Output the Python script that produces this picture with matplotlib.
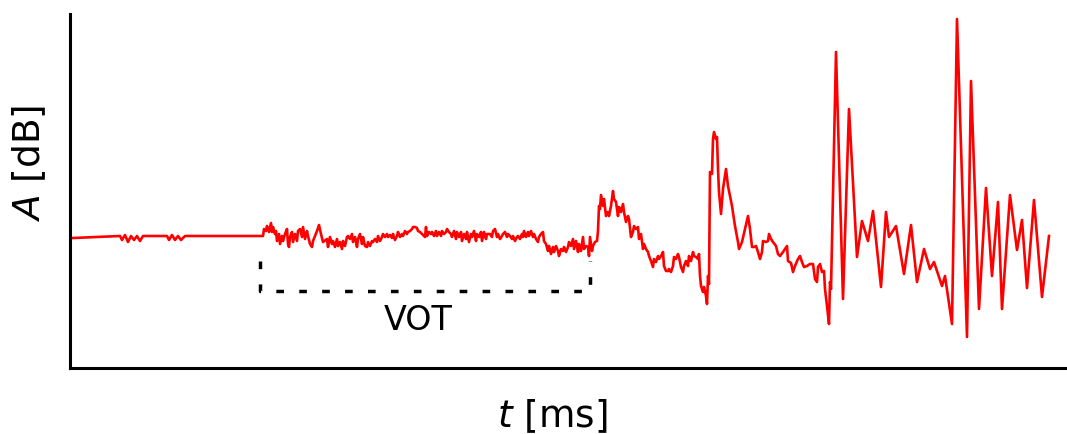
import matplotlib

matplotlib.use("Agg")

import matplotlib.pyplot as plt


# silence before the release: flat with two tiny ripples
silence_t = [0, 47, 49, 52, 55, 58, 61, 64, 67, 70,
             94, 96, 99, 102, 105, 108, 112, 189]
silence_a = [-1, 1, -3, 2, -5, 1, -3, 1, -4, 1,
             1, -3, 2, -3, 1, -3, 1, 1]

# burst / aspiration noise (the VOT stretch)
burst_t = [190, 191, 193, 194, 196, 198, 199, 200, 202, 203,
           204, 206, 207, 209, 210, 212, 214, 215, 216, 217,
           219, 220, 222, 224, 225, 227, 229, 230, 232, 234,
           235, 237, 239, 240, 244, 246, 248, 250, 254, 255,
           257, 259, 260, 262, 264, 265, 267, 269, 270, 272,
           274, 275, 277, 279, 280, 282, 284, 285, 287, 289,
           290, 292, 294, 295, 297, 299, 300,
           302, 304, 305, 307, 309, 310, 312, 314, 315, 317,
           319, 320, 322, 324, 325, 327, 329, 330, 332, 334,
           335, 337, 339, 340, 342, 344, 345, 347, 349, 350,
           352, 353, 354, 356, 358, 359, 361, 363, 364, 366,
           368, 369, 371, 373, 374, 376, 378, 379, 381, 383,
           384, 386, 388, 389, 391, 393, 394, 396, 398, 399,
           401, 403, 404, 406, 408, 409, 411, 413, 414,
           417, 419, 420, 422, 424, 425, 427, 429, 430, 432,
           434, 435, 437, 439, 440, 442, 444, 445, 447, 449,
           450, 451, 453, 455, 456, 458, 460, 461, 463, 465,
           466, 468, 470, 471, 473, 475, 476, 478, 480, 481,
           483, 485, 486, 488, 490, 491, 493, 495, 496, 498,
           500, 501, 503, 505, 506, 508, 510, 511, 513, 515,
           516, 517, 519, 520, 522, 524, 525]
burst_a = [1, 8, 6, 11, 5, 14, 5, 10, 3, 6,
           -4, 3, -7, 1, -4, 3, 8, -7, -10, 0,
           5, -5, 3, -4, 6, 8, 0, 10, -2, 6,
           1, -7, -10, -4, 6, 12, 3, -5, -2, -10,
           0, -7, -4, -10, -2, -9, -5, -12, -4, -9,
           0, 1, -2, 3, -5, 0, -10, -2, 3, -7,
           0, -9, -10, -5, -9, -4, -5,
           -2, -5, 1, -4, 0, 3, 0, 3, 0, 2,
           -1, 3, -3, 1, 5, 0, 3, 1, 6, 3,
           5, 6, 8, 10, 10, 9, 6, 5, 3, 2,
           0, 10, 1, 5, 3, 5, 1, 6, 1, 5,
           1, 6, 3, 5, 8, 5, 3, 0, 6, -2,
           5, 0, 5, -4, 3, -2, 5, -5, 3, 0,
           6, -4, 3, 0, 5, -4, 5, -2, 3,
           3, 0, 6, 8, 0, 3, -2, 1, 3, 5,
           0, 3, 1, -2, 1, -4, 0, 1, -2, 3,
           0, 6, 0, 5, 1, 6, 0, 3, -2, -5,
           0, 3, 5, -4, -7, -14, -9, -17, -10, -15,
           -9, -14, -19, -12, -14, -10, -15, -10, -5, -9,
           -2, -12, -4, -15, -7, -14, 0, -12, -9, -10,
           -19, 0, -14, -9, -5, -4, 6]

# voiced part after onset
vowel_t = [526, 527, 528, 530, 531, 533, 535, 536, 538, 540,
           541, 543, 545, 546, 548, 550, 551, 553, 555, 556,
           558, 560, 561, 563, 565, 566, 568, 570, 571, 573,
           575, 576, 578, 580, 581, 583, 585, 586, 588, 590,
           591, 593, 595, 596, 598, 600, 601, 603, 605, 606,
           608, 610, 611, 613, 615, 616, 618, 620, 621, 623,
           625, 626, 627, 628, 630, 631, 633, 634, 635, 636,
           637, 639, 640, 641, 643, 644, 645, 646, 648, 650,
           653, 655, 659, 662, 665, 666, 669, 672, 675, 677,
           679, 681, 683, 685, 687, 689, 690, 693, 695, 696,
           698, 700, 703, 705, 707, 710, 712, 714, 715, 718,
           720, 722, 725, 727, 729, 731, 734, 737, 740, 742,
           744, 745, 747, 749, 751, 752, 754, 756, 757, 758,
           763, 770, 776, 784, 789, 795, 800, 808, 813, 816,
           823, 831, 838, 844, 851, 857, 861, 869, 872, 879,
           884, 894, 898, 906, 913, 919, 925, 929, 937, 944,
           949, 954, 961, 969, 976]
vowel_a = [31, 28, 42, 31, 38, 21, 25, 21, 31, 46,
           38, 35, 21, 30, 25, 33, 25, 15, 21, 18,
           0, 5, 11, 8, 10, -2, 3, -12, -7, -12,
           -15, -19, -24, -30, -22, -25, -19, -22, -19, -15,
           -29, -34, -34, -32, -35, -29, -20, -22, -17, -20,
           -30, -35, -29, -24, -29, -19, -24, -15, -19, -20,
           -22, -17, -39, -49, -55, -50, -59, -67, -39, -47,
           65, 63, 98, 105, 98, 100, 68, 45, 23, 48,
           68, 51, 31, 11, -5, -12, -5, 8, 21, 8,
           -10, -10, -9, -15, -22, -15, -4, -5, -4, 3,
           -2, -5, -9, -17, -19, -15, -12, -9, -24, -26,
           -35, -29, -22, -19, -25, -30, -29, -27, -27, -42,
           -45, -30, -27, -35, -34, -52, -69, -87, -45, -52,
           185, -62, 128, -20, 16, -4, 26, -50, 25, 0,
           11, -37, 12, -45, -12, -32, -25, -49, -39, -87,
           218, -100, 156, -72, 49, -39, 35, -72, 42, -13,
           17, -51, 37, -60, 1]

vot_start = 187
vot_end = 517
bracket_top = -24
bracket_low = -54
vot_label_t = 345
vot_label_a = -82

t_ms = silence_t + burst_t + vowel_t
amp_db = silence_a + burst_a + vowel_a
assert len(t_ms) == len(amp_db)

fig = plt.figure(figsize=(10.67, 4.35), dpi=100)
ax = fig.add_axes([70 / 1067, 66 / 435, 997 / 1067, 354 / 435])

ax.plot(t_ms, amp_db, color="#ff0000", linewidth=1.9)

# dashed bracket marking the voice onset time
ax.plot(
    [vot_start, vot_start, vot_end, vot_end],
    [bracket_top, bracket_low, bracket_low, bracket_top],
    color="black",
    linewidth=2.5,
    linestyle=(0, (2.2, 4.4)),
)
ax.text(vot_label_t, vot_label_a, "VOT", fontsize=24, ha="center", va="center")

ax.set_xlim(-3, 994)
ax.set_ylim(-131, 223)
ax.set_xticks([])
ax.set_yticks([])
for side in ["top", "right"]:
    ax.spines[side].set_visible(False)
for side in ["left", "bottom"]:
    ax.spines[side].set_linewidth(2.2)
    ax.spines[side].set_color("black")

ax.set_xlabel("$t$ [ms]", fontsize=27)
ax.set_ylabel("$A$ [dB]", fontsize=27)
ax.xaxis.set_label_coords(0.4835, -0.079)
ax.yaxis.set_label_coords(-0.022, 0.582)

fig.savefig("out.png", dpi=100)
